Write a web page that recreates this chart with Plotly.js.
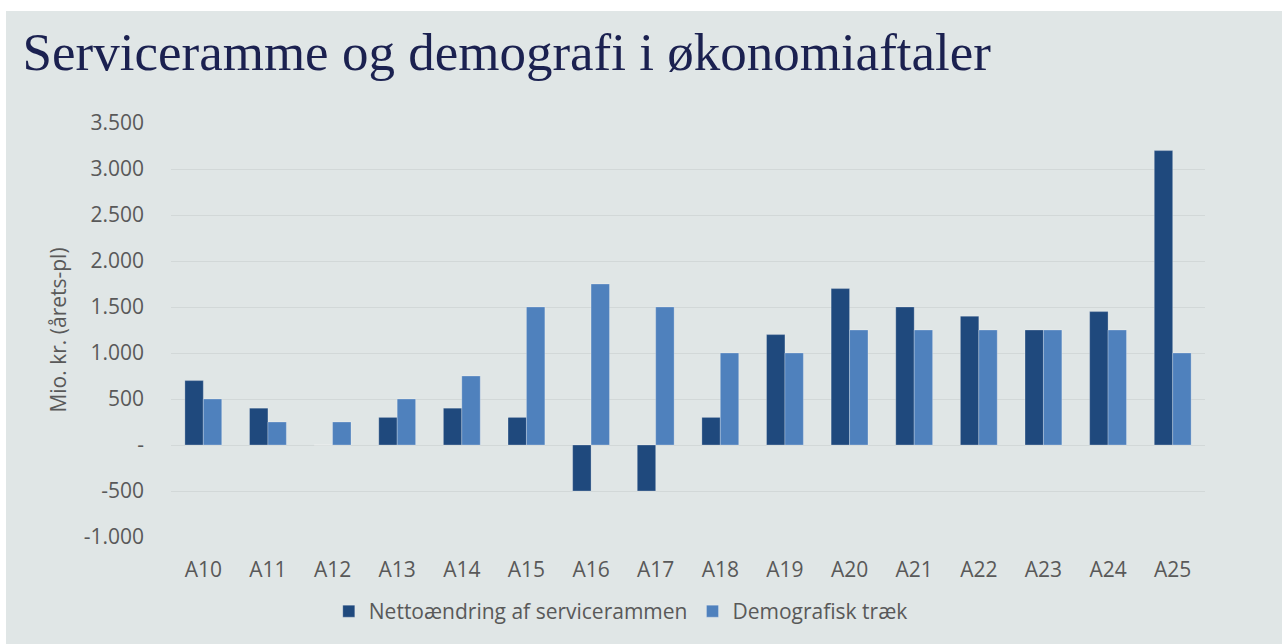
<!DOCTYPE html>
<html>
<head>
<meta charset="utf-8">
<script src="https://cdn.plot.ly/plotly-3.0.1.min.js"></script>
<style>
  html, body { margin: 0; padding: 0; background: #ffffff; }
  #chart { position: absolute; left: 6px; top: 11px; width: 1276px; height: 633px; }
</style>
</head>
<body>
<div id="chart"></div>
<script>
const categories = ["A10","A11","A12","A13","A14","A15","A16","A17","A18","A19","A20","A21","A22","A23","A24","A25"];
const nettoValues = [700, 400, 0, 300, 400, 300, -500, -500, 300, 1200, 1700, 1500, 1400, 1250, 1450, 3200];
const demografiValues = [500, 250, 250, 500, 750, 1500, 1750, 1500, 1000, 1000, 1250, 1250, 1250, 1250, 1250, 1000];
const yTickVals = [-1000, -500, 0, 500, 1000, 1500, 2000, 2500, 3000, 3500];
const yTickText = ["-1.000", "-500", "-", "500", "1.000", "1.500", "2.000", "2.500", "3.000", "3.500"];
const seriesNames = ["Nettoændring af servicerammen", "Demografisk træk"];

const tickFont = { family: "Open Sans, sans-serif", size: 21, color: "#595959" };

const data = [
  {
    type: "bar", name: seriesNames[0], x: categories, y: nettoValues,
    marker: { color: "#1F497D", line: { color: "rgba(255,255,255,0.25)", width: 1 } },
    hoverinfo: "x+y"
  },
  {
    type: "bar", name: seriesNames[1], x: categories, y: demografiValues,
    marker: { color: "#4F81BD", line: { color: "rgba(255,255,255,0.25)", width: 1 } },
    hoverinfo: "x+y"
  }
];

const layout = {
  width: 1276, height: 633,
  paper_bgcolor: "#e0e6e6",
  plot_bgcolor: "#e0e6e6",
  margin: { l: 165, r: 77, t: 112, b: 107 },
  barmode: "group",
  bargap: 0.43,
  bargroupgap: 0,
  title: {
    text: "Serviceramme og demografi i økonomiaftaler",
    font: { family: "Liberation Serif, serif", size: 53, color: "#1b2150" },
    x: 0.013, xref: "container", xanchor: "left",
    y: 0.966, yref: "container", yanchor: "top"
  },
  xaxis: {
    type: "category",
    tickfont: tickFont,
    showgrid: false, zeroline: false, showline: false, ticks: "",
    ticklabelstandoff: 18
  },
  yaxis: {
    range: [-1000, 3500],
    tickvals: yTickVals, ticktext: yTickText,
    tickfont: tickFont,
    showgrid: true, gridcolor: "#d2d8d8", gridwidth: 1,
    zeroline: true, zerolinecolor: "#d2d8d8", zerolinewidth: 1,
    showline: false, ticks: "",
    ticklabelstandoff: 26,
    title: { text: "Mio. kr. (årets-pl)", font: { family: "Open Sans, sans-serif", size: 21, color: "#595959" }, standoff: 11 }
  },
  showlegend: true,
  legend: {
    orientation: "h", x: 0.435, xanchor: "center", y: -0.18, yanchor: "middle",
    font: { family: "Open Sans, sans-serif", size: 21, color: "#595959" },
    bgcolor: "rgba(0,0,0,0)", itemclick: false, itemdoubleclick: false
  },
  hovermode: "closest"
};

Plotly.newPlot("chart", data, layout, { displayModeBar: false, responsive: false });
</script>
</body>
</html>
